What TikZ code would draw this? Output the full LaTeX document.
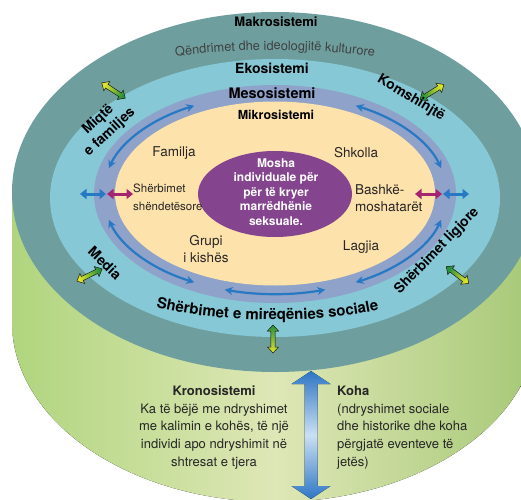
\documentclass[tikz,border=0pt]{standalone}
\usepackage{fontspec}
\setmainfont{TeX Gyre Heros}
\usetikzlibrary{arrows.meta,decorations.text}
\definecolor{makro}{RGB}{110,159,158}
\definecolor{eko}{RGB}{134,200,214}
\definecolor{meso}{RGB}{142,162,202}
\definecolor{mikro}{RGB}{254,226,172}
\definecolor{mosha}{RGB}{132,68,142}
\definecolor{arrblue}{RGB}{40,121,196}
\definecolor{arrmag}{RGB}{166,36,112}
\definecolor{grL}{RGB}{176,213,126}
\definecolor{grM}{RGB}{222,231,182}
\definecolor{grR}{RGB}{166,200,118}
\definecolor{kohaD}{RGB}{46,118,196}
\definecolor{kohaL}{RGB}{202,224,244}
\definecolor{arrG}{RGB}{38,146,58}
\definecolor{arrY}{RGB}{224,230,40}
\tikzset{
  lbl/.style={font=\fontsize{13.5}{17}\selectfont,text=black!85,align=center,inner sep=0pt},
  sysname/.style={font=\bfseries\fontsize{13}{15}\selectfont,inner sep=0pt},
  ringname/.style={font=\bfseries\fontsize{14}{17}\selectfont,inner sep=0pt,align=center},
  arcarr/.style={arrblue,line width=2.2pt,{Stealth[length=8pt,width=8pt]}-{Stealth[length=8pt,width=8pt]}},
  flatarr/.style={line width=3pt,{Triangle[length=6.5pt,width=10pt]}-{Triangle[length=6.5pt,width=10pt]}}
}
\begin{document}
\begin{tikzpicture}[x=1pt,y=1pt]
\useasboundingbox (0,0) rectangle (521,499);
\clip (0,0) rectangle (521,499);
\def\garr#1#2#3#4{\begin{scope}[shift={(#1,#2)},rotate=#3]
  \filldraw[draw=black!85,line width=0.5pt,top color=arrG,bottom color=arrY,shading angle=#4]
    (-14,0) -- (-8,5.5) -- (-8,2.2) -- (8,2.2) -- (8,5.5) -- (14,0) -- (8,-5.5) -- (8,-2.2)
    -- (-8,-2.2) -- (-8,-5.5) -- cycle;
\end{scope}}
% cylinder and rings
\fill[left color=grL,right color=grR,middle color=grM] (12,307) -- (12,177)
  arc[start angle=180,end angle=360,x radius=263pt,y radius=180pt] -- (538,307) -- cycle;
\fill[makro] (275,307) ellipse[x radius=263pt,y radius=180pt];
\fill[eko] (275,301) ellipse[x radius=225pt,y radius=139pt];
\fill[meso] (275,305) ellipse[x radius=181pt,y radius=109pt];
\fill[mikro] (275,305.5) ellipse[x radius=160pt,y radius=92pt];
\fill[mosha] (275,305) ellipse[x radius=77pt,y radius=43pt];
% arrows
\foreach \a/\b in {118/165, 15/62, 195/242, 298/345, 253/287}
  \draw[arcarr] (275,305) ++(\a:172pt and 100pt)
    arc[start angle=\a,end angle=\b,x radius=172pt,y radius=100pt];
\draw[flatarr,arrmag] (107,305) -- (133,305);
\draw[flatarr,arrmag] (415,305) -- (442,305);
\draw[flatarr,arrblue] (80,305) -- (106,305);
\draw[flatarr,arrblue] (443,305) -- (469,305);
\foreach \x/\y/\r in {113.5/408.5/-33, 432/407/212, 89.5/224/26, 457.5/224/143, 273/160/90}
  {\pgfmathsetmacro\sa{\r-90}\garr{\x}{\y}{\r}{\sa}}
\fill[top color=kohaD,bottom color=kohaD,middle color=kohaL] (311,128) -- (330.5,115)
  -- (317.5,115) -- (317.5,13) -- (330.5,13) -- (311,0) -- (291.5,13) -- (304.5,13)
  -- (304.5,115) -- (291.5,115) -- cycle;
% labels
\node[sysname] (makro) at (276,477) {Makrosistemi};
\path[decorate,decoration={text along path,text align=center,
  text={|\fontsize{12.8}{14}\selectfont\color{black!75}|Qëndrimet dhe ideologjitë kulturore}}]
  (160,440) .. controls (230,452) and (320,452) .. (390,440);
\node[ringname] (eko) at (272,431) {Ekosistemi};
\node[ringname,font=\bfseries\fontsize{14.5}{17}\selectfont] (meso) at (272,406) {Mesosistemi};
\node[sysname,font=\bfseries\fontsize{12.5}{15}\selectfont] (mikro) at (276,384) {Mikrosistemi};
\node[ringname,rotate=43] (miqte) at (104,373) {Miqtë\\e familjes};
\node[ringname,rotate=-31] (komsh) at (411,401) {Komshinjtë};
\node[ringname,rotate=-44] (media) at (105,236) {Media};
\node[ringname,rotate=46] (ligj) at (437,248) {Shërbimet ligjore};
\path[decorate,decoration={text along path,text align=center,
  text={|\bfseries\fontsize{15}{17}\selectfont|Shërbimet e mirëqënies sociale}}]
  (140,196) .. controls (210,174) and (330,174) .. (395,193);
\node[lbl] (familja) at (174,346) {Familja};
\node[lbl] (shkolla) at (356,346) {Shkolla};
\node[lbl,font=\fontsize{11.5}{18}\selectfont,align=left,anchor=west] (shend) at (133,302)
  {Shërbimet\\shëndetësore};
\node[lbl,align=left,anchor=west] (bashk) at (355,301) {Bashkë-\\moshatarët};
\node[lbl] (kisha) at (206,250) {Grupi\\i kishës};
\node[lbl] (lagjia) at (361,252) {Lagjia};
\node[font=\bfseries\fontsize{12}{14.5}\selectfont,text=white,align=center,inner sep=0pt]
  (mosha) at (276,307) {Mosha\\individuale për\\për të kryer\\marrëdhënie\\seksuale.};
\node[lbl,font=\fontsize{13}{17.7}\selectfont] (krono) at (214,71.5)
  {\textbf{Kronosistemi}\\Ka të bëjë me ndryshimet\\me kalimin e kohës, të një\\individi apo ndryshimit në\\shtresat e tjera};
\node[lbl,font=\fontsize{13}{17.7}\selectfont,align=left,anchor=west] (koha) at (337,71.5)
  {\textbf{Koha}\\(ndryshimet sociale\\dhe historike dhe koha\\përgjatë eventeve të\\jetës)};
\end{tikzpicture}
\end{document}
